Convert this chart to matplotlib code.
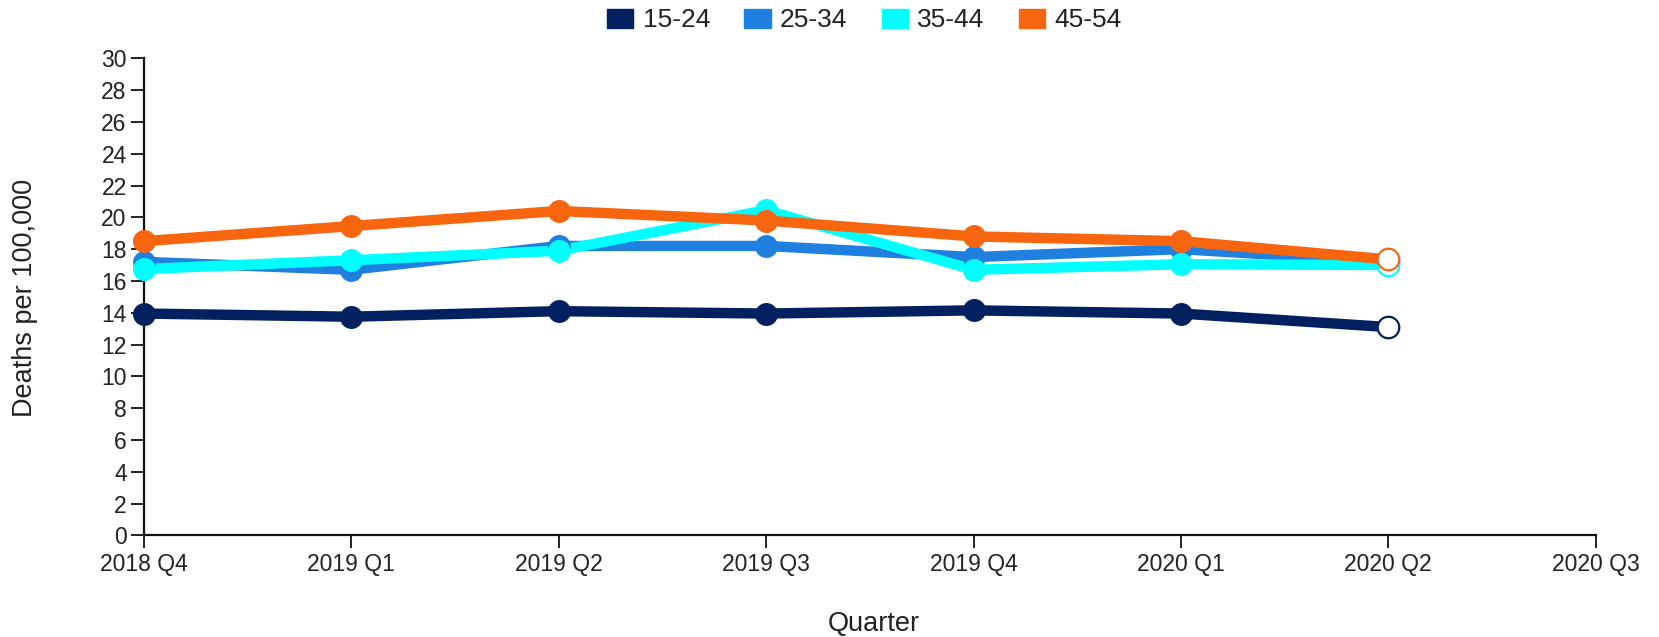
import numpy as np
import matplotlib
matplotlib.use("Agg")
import matplotlib.pyplot as plt
from matplotlib.patches import Patch

plt.rcParams['font.family'] = ['Liberation Sans', 'DejaVu Sans']

# data
quarters = ['2018 Q4', '2019 Q1', '2019 Q2', '2019 Q3', '2019 Q4', '2020 Q1', '2020 Q2', '2020 Q3']
age_groups = ['15-24', '25-34', '35-44', '45-54']
rate_15_24 = [13.95, 13.75, 14.1, 13.95, 14.15, 13.95, 13.1]
rate_25_34 = [17.2, 16.7, 18.2, 18.2, 17.5, 18.0, 17.2]
rate_35_44 = [16.75, 17.3, 17.9, 20.45, 16.7, 17.05, 17.0]
rate_45_54 = [18.5, 19.45, 20.4, 19.8, 18.8, 18.5, 17.35]
colors = ['#002060', '#1f80e0', '#00ffff', '#f8650f']

series = [rate_15_24, rate_25_34, rate_35_44, rate_45_54]
text_col = '#222222'

fig = plt.figure(figsize=(16.59, 6.37), dpi=100)
ax = fig.add_axes([0.0868, 0.1595, 0.875, 0.749])

x = np.arange(len(rate_15_24))
for vals, col in zip(series, colors):
    ax.plot(x, vals, color=col, lw=7.5, solid_capstyle='round', zorder=2, clip_on=False)
    # filled markers for all but the last (provisional) point
    ax.plot(x[:-1], vals[:-1], 'o', color=col, ms=15.5, mec=col, zorder=3, clip_on=False)
    ax.plot(x[-1:], vals[-1:], 'o', color=col, ms=15.5, mfc='white', mec=col, mew=1.6,
            zorder=3, clip_on=False)

ax.set_xlim(0, len(quarters) - 1)
ax.set_ylim(0, 30)
ax.set_xticks(np.arange(len(quarters)))
ax.set_xticklabels(quarters)
ax.set_yticks(np.arange(0, 31, 2))

for s in ['top', 'right']:
    ax.spines[s].set_visible(False)
for s in ['left', 'bottom']:
    ax.spines[s].set_linewidth(1.6)
    ax.spines[s].set_color('#111111')
    ax.spines[s].set_zorder(1)
ax.tick_params(axis='both', length=9.5, width=1.3, color='#111111',
               labelsize=16.5, labelcolor=text_col, pad=3)

fig.text(0.5268, 0.021, 'Quarter', ha='center', va='center', fontsize=19.5, color=text_col)
fig.text(0.015, 0.533, 'Deaths per 100,000', rotation=90, ha='center', va='center',
         fontsize=19.5, color=text_col)

handles = [Patch(facecolor=c, edgecolor=c) for c in colors]
fig.legend(handles, age_groups, loc='center', bbox_to_anchor=(0.521, 0.968), ncol=4,
           frameon=False, fontsize=19, handlelength=1.0, handleheight=0.75,
           handletextpad=0.35, columnspacing=1.3, labelcolor=text_col)

fig.savefig('out.png', dpi=100)
